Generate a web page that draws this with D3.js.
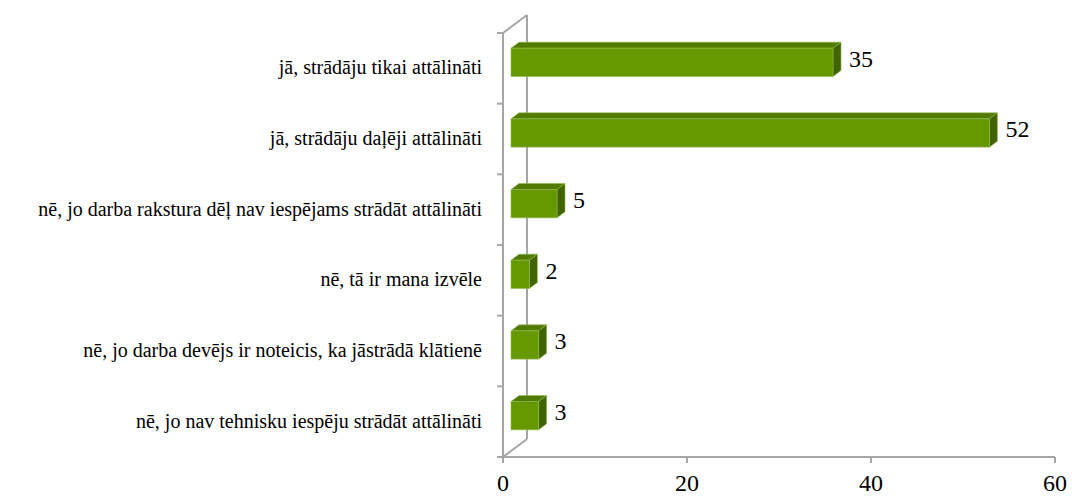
<!DOCTYPE html>
<html>
<head>
<meta charset="utf-8">
<script src="https://cdn.jsdelivr.net/npm/d3@7"></script>
<style>
	body { margin: 0; background: #fff; }
	svg { display: block; }
	text { font-family: "Liberation Serif", "Times New Roman", Times, "DejaVu Serif", serif; fill: #000; }
	.cat-label { font-size: 20px; }
	.val-label { font-size: 24px; }
	.tick-label { font-size: 24px; }
</style>
</head>
<body>
<div class="bar-chart"></div>
<script>
var categories = [
	"jā, strādāju tikai attālināti",
	"jā, strādāju daļēji attālināti",
	"nē, jo darba rakstura dēļ nav iespējams strādāt attālināti",
	"nē, tā ir mana izvēle",
	"nē, jo darba devējs ir noteicis, ka jāstrādā klātienē",
	"nē, jo nav tehnisku iespēju strādāt attālināti"
];
var values = [35, 52, 5, 2, 3, 3];
var xTicks = [0, 20, 40, 60];

(function () {

	var W = 1072,
		H = 497;

	// front plane of the plot area
	var plot = { left: 503, right: 1055, top: 33, bottom: 457 };

	// 3d depth of the whole wall and of the bars (bars sit in the middle third)
	var depth = { dx: 24, dy: -18 };
	var barFront = { dx: depth.dx / 3, dy: depth.dy / 3 },
		barDepth = { dx: depth.dx / 3, dy: depth.dy / 3 };

	var colors = {
		front: "#669900",
		top: "#507a00",
		side: "#3f6400",
		edge: "#8fb84a",
		wall: "#a6a6a6"
	};

	var svg = d3.select(".bar-chart").append("svg")
		.attr("width", W)
		.attr("height", H);

	var x = d3.scaleLinear()
		.domain([0, 60])
		.range([plot.left, plot.right]);

	var y = d3.scaleBand()
		.domain(categories)
		.range([plot.top, plot.bottom])
		.padding(0);

	var barH = y.bandwidth() * 0.4;

	// wall + floor edges
	var wall = svg.append("g").attr("class", "wall")
		.attr("stroke", colors.wall)
		.attr("stroke-width", 2)
		.attr("fill", "none");

	wall.append("line")
		.attr("x1", plot.left).attr("y1", plot.top)
		.attr("x2", plot.left).attr("y2", plot.bottom);

	wall.append("line")
		.attr("x1", plot.left).attr("y1", plot.top)
		.attr("x2", plot.left + depth.dx).attr("y2", plot.top + depth.dy);

	wall.append("line")
		.attr("x1", plot.left + depth.dx).attr("y1", plot.top + depth.dy)
		.attr("x2", plot.left + depth.dx).attr("y2", plot.bottom + depth.dy);

	wall.append("line")
		.attr("x1", plot.left).attr("y1", plot.bottom)
		.attr("x2", plot.left + depth.dx).attr("y2", plot.bottom + depth.dy);

	// left category ticks
	var bounds = categories.map(function (c) { return y(c); }).concat([plot.bottom]);
	wall.selectAll(".ytick")
		.data(bounds)
		.enter().append("line")
		.attr("class", "ytick")
		.attr("x1", plot.left - 6).attr("x2", plot.left)
		.attr("y1", function (d) { return d; })
		.attr("y2", function (d) { return d; });

	// x axis
	wall.append("line")
		.attr("x1", plot.left - 6).attr("y1", plot.bottom)
		.attr("x2", plot.right).attr("y2", plot.bottom);

	wall.selectAll(".xtick")
		.data(xTicks)
		.enter().append("line")
		.attr("class", "xtick")
		.attr("x1", function (d) { return x(d); })
		.attr("x2", function (d) { return x(d); })
		.attr("y1", plot.bottom)
		.attr("y2", plot.bottom + 6);

	svg.selectAll(".tick-label")
		.data(xTicks)
		.enter().append("text")
		.attr("class", "tick-label")
		.attr("x", function (d) { return x(d); })
		.attr("y", 491)
		.attr("text-anchor", "middle")
		.text(function (d) { return d; });

	// category labels
	svg.selectAll(".cat-label")
		.data(categories)
		.enter().append("text")
		.attr("class", "cat-label")
		.attr("x", 482)
		.attr("y", function (d) { return y(d) + y.bandwidth() / 2 - 1; })
		.attr("dy", "0.35em")
		.attr("text-anchor", "end")
		.text(function (d) { return d; });

	// bars
	var data = categories.map(function (c, i) { return { cat: c, value: values[i] }; });

	var bars = svg.selectAll(".bar")
		.data(data)
		.enter().append("g")
		.attr("class", "bar")
		.attr("stroke", colors.edge)
		.attr("stroke-width", 0.6)
		.attr("stroke-linejoin", "round");

	function geom(d) {
		var x0 = x(0) + barFront.dx,
			x1 = x(d.value) + barFront.dx,
			yc = y(d.cat) + y.bandwidth() / 2 + barFront.dy;
		return { x0: x0, x1: x1, y0: yc - barH / 2, y1: yc + barH / 2, yc: yc };
	}

	bars.append("path")
		.attr("fill", colors.top)
		.attr("d", function (d) {
			var g = geom(d);
			return "M" + g.x0 + "," + g.y0 +
				"L" + (g.x0 + barDepth.dx) + "," + (g.y0 + barDepth.dy) +
				"L" + (g.x1 + barDepth.dx) + "," + (g.y0 + barDepth.dy) +
				"L" + g.x1 + "," + g.y0 + "Z";
		});

	bars.append("path")
		.attr("fill", colors.side)
		.attr("d", function (d) {
			var g = geom(d);
			return "M" + g.x1 + "," + g.y0 +
				"L" + (g.x1 + barDepth.dx) + "," + (g.y0 + barDepth.dy) +
				"L" + (g.x1 + barDepth.dx) + "," + (g.y1 + barDepth.dy) +
				"L" + g.x1 + "," + g.y1 + "Z";
		});

	bars.append("rect")
		.attr("fill", colors.front)
		.attr("x", function (d) { return geom(d).x0; })
		.attr("y", function (d) { return geom(d).y0; })
		.attr("width", function (d) { var g = geom(d); return g.x1 - g.x0; })
		.attr("height", barH);

	// value labels
	svg.selectAll(".val-label")
		.data(data)
		.enter().append("text")
		.attr("class", "val-label")
		.attr("x", function (d) { return geom(d).x1 + 16; })
		.attr("y", function (d) { return geom(d).yc - 4; })
		.attr("dy", "0.35em")
		.text(function (d) { return d.value; });

})();
</script>
</body>
</html>
